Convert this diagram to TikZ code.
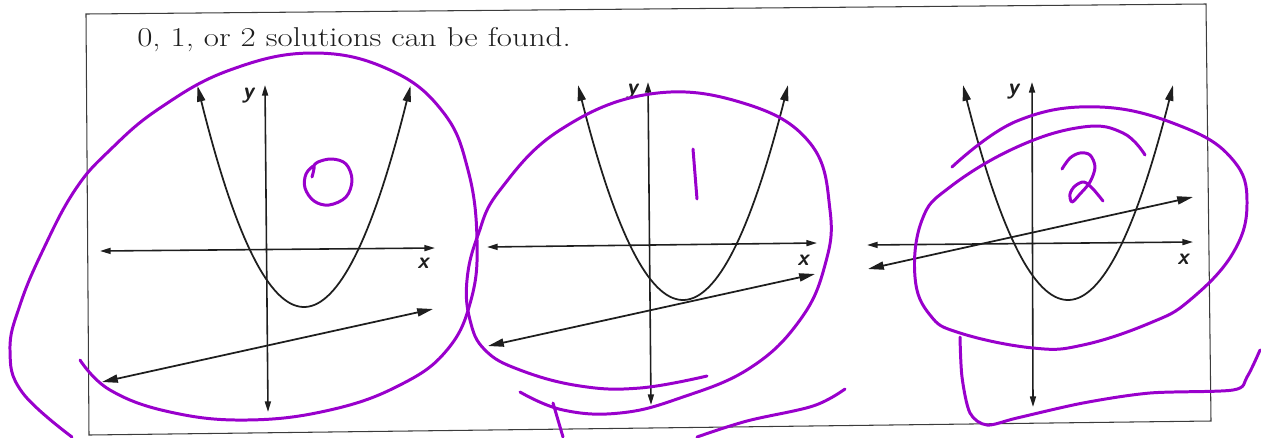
\documentclass[tikz,border=0pt]{standalone}
\usepackage{fontspec}
\usetikzlibrary{arrows.meta}
\definecolor{pen}{RGB}{153,0,204}
\definecolor{framegray}{RGB}{60,60,60}
\definecolor{ink}{RGB}{30,30,30}
\begin{document}
\begin{tikzpicture}[x=0.02cm,y=-0.02cm,
  axisline/.style={ink,line width=0.9pt,{Triangle[length=6pt,width=3.4pt]}-{Triangle[length=6pt,width=3.4pt]}},
  lineln/.style={ink,line width=1pt,{Triangle[length=9pt,width=4.6pt]}-{Triangle[length=9pt,width=4.6pt]}},
  parab/.style={ink,line width=1pt,{Triangle[length=9pt,width=4.6pt]}-{Triangle[length=9pt,width=4.6pt]}},
  axlabel/.style={font=\fontsize{13}{13}\selectfont\sffamily\bfseries\itshape,inner sep=0pt,ink},
  penline/.style={pen,line width=1.7pt,line cap=round,line join=round},
  framebox/.style={framegray,line width=0.6pt}
]
\useasboundingbox (0,0) rectangle (1261,437);
% frame
\coordinate (ftl) at (86,14);
\coordinate (ftr) at (1206,4);
\coordinate (fbr) at (1211,421);
\coordinate (fbl) at (89,435);
\draw[framebox] (ftl) -- (ftr) -- (fbr) -- (fbl) -- cycle;
% title
\node[anchor=base west,inner sep=0pt,font=\fontsize{15.5}{19}\selectfont,ink] (title) at (137,46) {\scalebox{1.21}[1]{0, 1, or 2 solutions can be found.}};

% ---------- graph 1 ----------
\coordinate (x1l) at (100,251); \coordinate (x1r) at (435,248);
\coordinate (y1t) at (265,85);  \coordinate (y1b) at (268,412);
\coordinate (l1l) at (102,382); \coordinate (l1r) at (433,309);
\draw[axisline] (x1l) -- (x1r);
\draw[axisline] (y1b) -- (y1t);
\draw[lineln] (l1l) -- (l1r);
\draw[parab] plot[domain=197.5:410.5,samples=70] (\x,{307-0.0195*(\x-304)^2});
\node[axlabel] (ylab1) at (248,96) {y};
\node[axlabel] (xlab1) at (423,263) {x};

% ---------- graph 2 ----------
\coordinate (x2l) at (487,247); \coordinate (x2r) at (817,243);
\coordinate (y2t) at (648,82);  \coordinate (y2b) at (651,405);
\coordinate (l2l) at (488,346); \coordinate (l2r) at (815,274);
\draw[axisline] (x2l) -- (x2r);
\draw[axisline] (y2b) -- (y2t);
\draw[lineln] (l2l) -- (l2r);
\draw[parab] plot[domain=578:788,samples=70] (\x,{300-0.0195*(\x-683)^2});
\node[axlabel] (ylab2) at (632,92) {y};
\node[axlabel] (xlab2) at (803,260) {x};

% ---------- graph 3 ----------
\coordinate (x3l) at (867,245); \coordinate (x3r) at (1193,242);
\coordinate (y3t) at (1032,82); \coordinate (y3b) at (1033,407);
\coordinate (l3l) at (868,269); \coordinate (l3r) at (1193,197);
\draw[axisline] (x3l) -- (x3r);
\draw[axisline] (y3b) -- (y3t);
\draw[lineln] (l3l) -- (l3r);
\draw[parab] plot[domain=963:1173,samples=70] (\x,{300-0.0195*(\x-1068)^2});
\node[axlabel] (ylab3) at (1013,92) {y};
\node[axlabel] (xlab3) at (1183,259) {x};

% ---------- purple annotations ----------
% loop 1
\draw[penline] plot[smooth,tension=0.7] coordinates {(80,360) (110,390) (170,412) (247,420) (330,410) (400,385) (447,350) (471,300) (477,240) (468,170) (443,112) (390,70) (313,53) (230,70) (160,108) (110,150) (75,190) (43,250) (20,305) (10,350) (22,392) (72,437)};
% digit 0
\draw[penline] plot[smooth,tension=0.6] coordinates {(312,177) (314,166) (306,174) (305,188) (314,201) (329,205) (346,197) (352,180) (346,164) (332,159) (318,162) (313,167)};
% loop 2
\draw[penline] plot[smooth,tension=0.7] coordinates {(707,376) (640,388) (580,386) (520,370) (485,350) (470,320) (467,280) (478,235) (500,190) (560,130) (650,94) (743,103) (810,143) (830,210) (825,265) (800,320) (750,368) (680,398) (620,413) (563,410) (520,392)};
% digit 1
\draw[penline] (693,149) -- (697,199);
% strokes below graph 2
\draw[penline] (553,403) -- (563,437);
\draw[penline] plot[smooth,tension=0.6] coordinates {(697,437) (747,421) (813,406) (845,389)};
% loop 3
\draw[penline] plot[smooth,tension=0.7] coordinates {(952,167) (1017,121) (1100,107) (1183,127) (1233,160) (1247,203) (1233,253) (1190,300) (1150,323) (1083,345) (1033,348) (960,333) (930,315) (915,277) (922,220) (950,187) (1017,147) (1083,127) (1123,133) (1145,155)};
% digit 2
\draw[penline] plot[smooth,tension=0.55] coordinates {(1062,169) (1070,158) (1080,153) (1090,155) (1095,167) (1090,182) (1080,194) (1072,202) (1070,194) (1075,186) (1084,182) (1093,189) (1103,201)};
% bracket under graph 3
\draw[penline] plot[smooth,tension=0.5] coordinates {(960,337) (962,377) (970,413) (987,425) (1017,418) (1083,403) (1150,393) (1233,390) (1247,377) (1260,350)};
\end{tikzpicture}
\end{document}
